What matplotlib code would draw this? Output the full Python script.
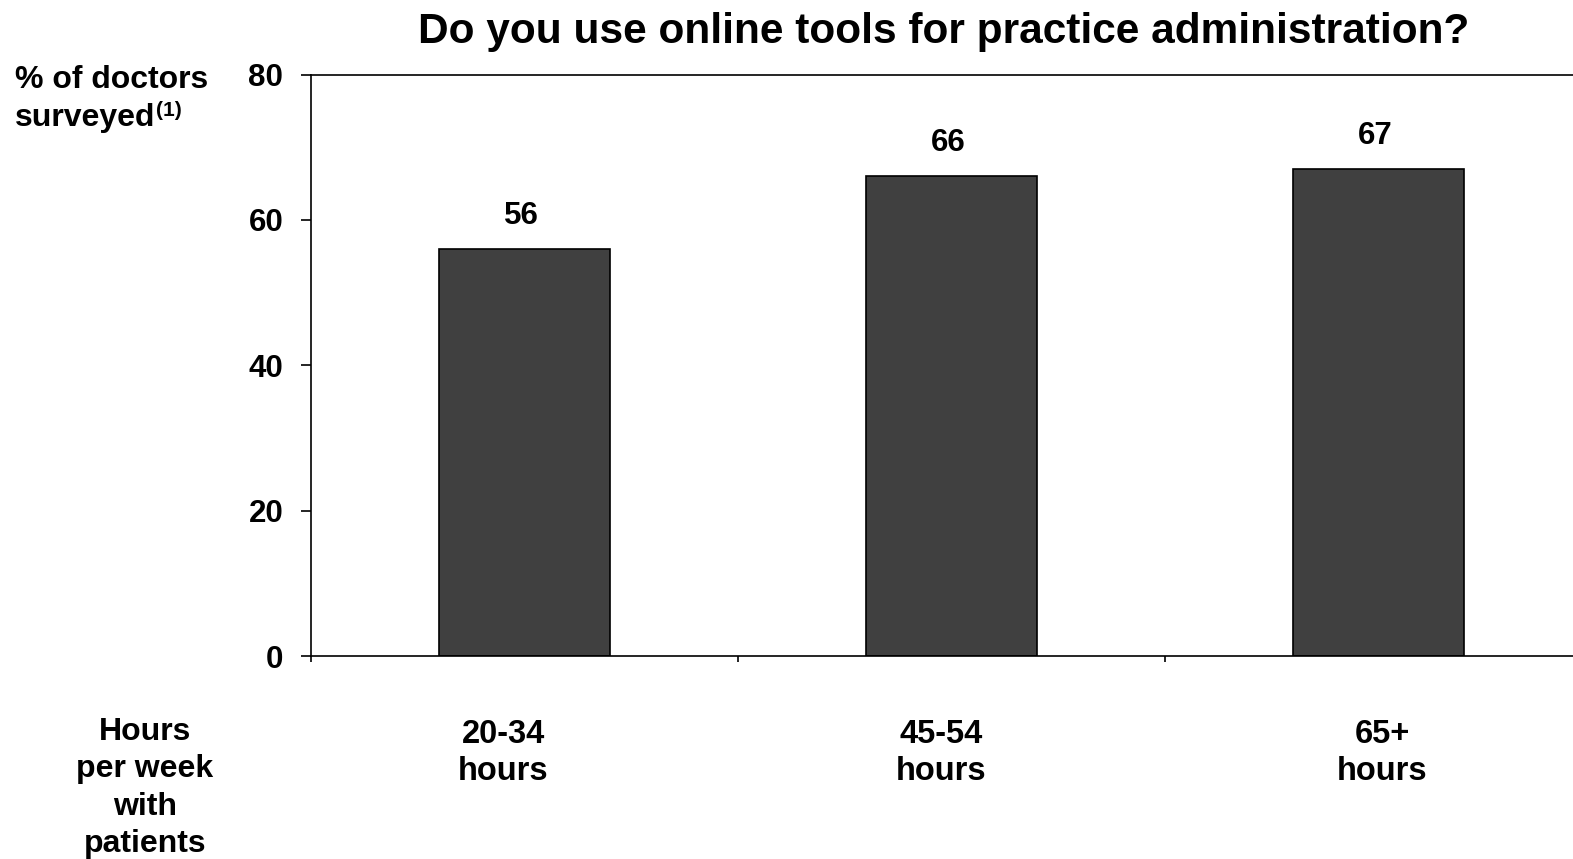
import matplotlib
matplotlib.use("Agg")
import matplotlib.pyplot as plt
from matplotlib.transforms import ScaledTranslation

plt.rcParams['font.family'] = ['Liberation Sans', 'DejaVu Sans']
plt.rcParams['font.weight'] = 'bold'

# Survey results
categories = ["20-34\nhours", "45-54\nhours", "65+\nhours"]
values = [56, 66, 67]
yticks = [0, 20, 40, 60, 80]
title = "Do you use online tools for practice administration?"
ylabel_lines = ["% of doctors", "surveyed"]
ylabel_note = "(1)"
xlabel = "Hours\nper week\nwith\npatients"

W, H = 1573, 859
fig = plt.figure(figsize=(W / 100, H / 100), dpi=100)
fig.patch.set_facecolor("white")

# Axes box: left spine at x=311 px, baseline at y=656 px, top at y=74.5 px
ax = fig.add_axes([311 / W, (H - 656) / H, 3 * 427 / W, (656 - 74.5) / H])
ax.set_xlim(-0.5, 2.5)
ax.set_ylim(0, 80)

x = list(range(len(values)))
ax.bar(x, values, width=0.4, color="#404040", edgecolor="black", linewidth=1.2, zorder=2)

for xi, v in zip(x, values):
    ax.annotate(f"{v}", (xi, v), xytext=(-3, 33), textcoords="offset pixels",
                ha="center", va="center", fontsize=22.5, fontweight="bold")

for s in ax.spines.values():
    s.set_linewidth(1.2)
    s.set_color("black")

ax.set_yticks(yticks)
ax.set_yticklabels([str(t) for t in yticks], fontsize=22.5, fontweight="bold")
ax.tick_params(axis="y", direction="out", length=7, width=1.2, pad=13)

# category boundaries carry the x ticks; labels sit below the bars
ax.set_xticks([-0.5, 0.5, 1.5, 2.5])
ax.set_xticklabels([])
ax.tick_params(axis="x", direction="out", length=4, width=1.2)

label_shift = [-21, -10, 4]
for xi, lab, dx in zip(x, categories, label_shift):
    ax.text(xi, 0, lab,
            transform=ax.get_xaxis_transform() + ScaledTranslation(dx / 100, -97 / 100, fig.dpi_scale_trans),
            ha="center", va="center", fontsize=23.5, fontweight="bold", linespacing=1.22)

fig.text(944 / W, 1 - 32 / H, title, ha="center", va="center", fontsize=30.5, fontweight="bold")

# y-axis caption with a footnote marker
fig.text(15 / W, 1 - 80 / H, ylabel_lines[0], ha="left", va="center", fontsize=23, fontweight="bold")
surv = fig.text(15 / W, 1 - 118 / H, ylabel_lines[1], ha="left", va="center", fontsize=23, fontweight="bold")
fig.add_artist(matplotlib.text.Annotation(
    ylabel_note, xy=(1, 1), xycoords=surv, xytext=(1, 2), textcoords="offset pixels",
    ha="left", va="top", fontsize=15, fontweight="bold", annotation_clip=False))

fig.text(145 / W, 1 - 788 / H, xlabel, ha="center", va="center", fontsize=23, fontweight="bold", linespacing=1.32)

fig.savefig("out.png", dpi=100, facecolor="white")
